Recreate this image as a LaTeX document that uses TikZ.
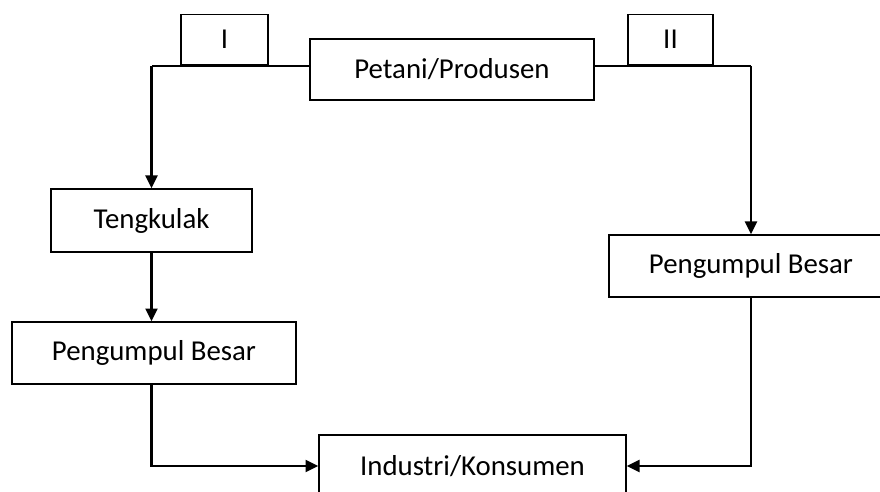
\documentclass[tikz,border=0pt]{standalone}
\usepackage{fontspec}
\setmainfont{Carlito}
\usetikzlibrary{positioning,arrows.meta,calc}
\tikzset{
    Kotak/.style={draw, line width=1pt, rectangle, inner sep=0pt, minimum height=1.55cm, font=\fontsize{20.5}{24}\selectfont},
    Jalur/.style={draw, line width=0.9pt},
    Panah/.style={draw, line width=1.6pt, -{Triangle[length=0.32cm,width=0.3cm]}}
    }
\begin{document}
\begin{tikzpicture}
\useasboundingbox (0,0) rectangle (22,-12.3);

\node[Kotak, minimum width=7.1cm, minimum height=1.525cm] (prod) at (11.3,-1.7375) {Petani/Produsen};
\coordinate (garis) at ($(prod.center)+(0,0.0875)$);
\node[Kotak, minimum width=2.175cm, minimum height=1.25cm, anchor=south] (satu) at (5.6125,-1.63) {I};
\node[Kotak, minimum width=2.125cm, minimum height=1.25cm, anchor=south] (dua) at (16.7625,-1.63) {II};

\node[Kotak, minimum width=5.025cm, minimum height=1.575cm] (teng) at (3.7875,-5.5125) {Tengkulak};
\node[Kotak, minimum width=7.1cm] (pkiri) at (3.85,-8.825) {Pengumpul Besar};
\node[Kotak, minimum width=7.1cm] (pkanan) at (18.775,-6.65) {Pengumpul Besar};
\node[Kotak, minimum width=7.675cm] (ind) at (11.8125,-11.65) {Industri/Konsumen};

% saluran I
\draw[Jalur] (prod.west |- garis) -- (garis -| teng.north);
\draw[Panah] (garis -| teng.north) -- (teng.north);
\draw[Panah] (teng.south) -- (teng.south |- pkiri.north);
\draw[Panah] (pkiri.south -| teng.south) |- (ind.west);

% saluran II
\draw[Jalur] (prod.east |- garis) -- (garis -| pkanan.north);
\draw[Panah] (garis -| pkanan.north) -- (pkanan.north);
\draw[Panah] (pkanan.south) |- (ind.east);

\end{tikzpicture}
\end{document}
